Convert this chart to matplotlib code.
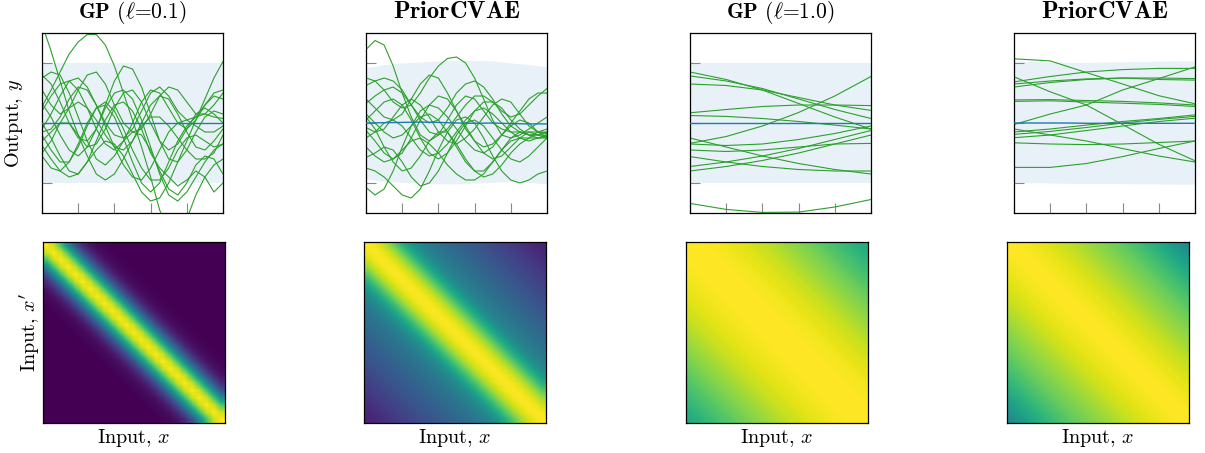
import numpy as np
import matplotlib
matplotlib.use("Agg")
import matplotlib.pyplot as plt

plt.rcParams['font.family'] = 'serif'
plt.rcParams['font.serif'] = ['cmr10', 'DejaVu Serif']
plt.rcParams['mathtext.fontset'] = 'cm'
plt.rcParams['axes.formatter.use_mathtext'] = True
plt.rcParams['axes.unicode_minus'] = False

# ---------------- data ----------------
titles = [r"$\mathbf{GP}$ ($\ell$=0.1)", r"$\mathbf{PriorCVAE}$",
          r"$\mathbf{GP}$ ($\ell$=1.0)", r"$\mathbf{PriorCVAE}$"]
title_sizes = [15.5, 17.5, 15.5, 17.5]

x_fine = [i / 20 for i in range(21)]          # sample positions, short lengthscale panels
x_coarse = [0.0, 0.2, 0.4, 0.6, 0.8, 1.0]      # sample positions, long lengthscale panels
x_band = [i / 10 for i in range(11)]

gp01_samples = [
    [3.3, 2.4, 1.4, 0.4, -0.4, -0.8, -0.7, -0.2, 0.5, 1.0, 1.1, 0.7, 0.0, -0.6, -0.9, -0.7, -0.2, 0.3, 0.5, 0.3, 0.0],
    [0.55, 1.1, 1.7, 2.3, 2.7, 2.95, 2.95, 2.6, 1.9, 1.0, 0.1, -0.8, -1.8, -2.9, -3.6, -3.8, -3.2, -2.4, -1.8, -1.4, -1.2],
    [1.6, 1.3, 0.7, 0.0, -0.5, -0.6, -0.2, 0.6, 1.4, 1.9, 1.8, 1.2, 0.3, -0.6, -1.2, -1.3, -0.9, -0.3, 0.2, 0.4, 0.3],
    [1.5, 1.7, 1.6, 1.0, 0.2, -0.6, -1.2, -1.4, -1.1, -0.6, -0.3, -0.4, -0.9, -1.6, -2.2, -2.4, -2.0, -1.4, -1.1, -1.2, -1.7],
    [1.1, 0.6, 0.3, 0.5, 1.1, 1.6, 1.7, 1.3, 0.6, 0.0, -0.3, -0.2, 0.3, 0.9, 1.2, 1.1, 0.7, 0.3, 0.3, 0.6, 1.0],
    [0.65, 0.2, -0.4, -0.9, -1.1, -0.8, -0.2, 0.5, 1.0, 1.1, 0.8, 0.1, -0.8, -1.7, -2.4, -2.6, -2.3, -1.8, -1.3, -0.9, -0.7],
    [0.4, 0.9, 1.3, 1.4, 1.1, 0.5, -0.2, -0.7, -0.9, -0.6, 0.0, 0.7, 1.1, 1.0, 0.5, 0.0, -0.2, 0.1, 0.6, 0.9, 0.8],
    [0.0, -0.5, -1.1, -1.6, -1.7, -1.3, -0.6, 0.1, 0.6, 0.7, 0.4, -0.2, -1.0, -1.5, -1.8, -2.1, -1.9, -1.6, -1.8, -2.3, -2.0],
    [-0.2, 0.3, 0.9, 1.4, 1.5, 1.2, 0.6, 0.0, -0.4, -0.5, -0.2, 0.4, 1.0, 1.2, 0.9, 0.4, 0.1, 0.2, 0.6, 1.0, 1.1],
    [-0.3, -0.2, 0.2, 0.8, 1.2, 1.1, 0.6, -0.1, -0.8, -1.4, -1.8, -1.9, -1.5, -0.9, -0.3, 0.0, 0.1, -0.1, -0.3, -0.3, -0.1],
    [-0.4, -0.9, -1.3, -1.3, -0.8, -0.1, 0.5, 0.7, 0.4, -0.2, -0.9, -1.5, -1.9, -1.9, -1.5, -0.9, -0.5, -0.4, -0.6, -0.8, -0.7],
    [-0.6, -0.3, 0.0, 0.0, -0.4, -1.1, -1.7, -1.9, -1.7, -1.2, -0.6, -0.1, 0.2, 0.2, -0.1, -0.5, -0.9, -1.2, -1.2, -1.0, -0.4],
    [-0.75, -1.2, -1.6, -1.8, -1.7, -1.3, -0.9, -0.6, -0.7, -1.1, -1.7, -2.3, -2.6, -2.5, -2.0, -1.3, -0.6, 0.1, 0.8, 1.5, 2.05],
    [-1.0, -0.6, 0.0, 0.5, 0.7, 0.5, 0.1, -0.4, -0.8, -0.9, -0.6, 0.0, 0.6, 0.9, 0.8, 0.3, -0.3, -0.8, -0.9, -0.6, -0.2],
    [-1.1, -1.5, -1.6, -1.3, -0.7, 0.0, 0.5, 0.6, 0.2, -0.5, -1.3, -2.0, -2.3, -2.0, -1.3, -0.6, -0.1, 0.2, 0.3, 0.2, 0.15],
]

cvae01_samples = [
    [2.45, 2.75, 2.6, 1.9, 1.0, 0.2, -0.4, -0.6, -0.4, 0.1, 0.6, 0.9, 0.8, 0.4, 0.0, -0.2, -0.3, -0.3, -0.4, -0.4, -0.4],
    [1.5, 1.4, 1.1, 0.7, 0.5, 0.6, 1.0, 1.5, 1.9, 2.15, 2.2, 2.0, 1.5, 0.8, 0.1, -0.4, -0.5, -0.4, -0.2, 0.0, 0.2],
    [1.25, 1.4, 1.5, 1.4, 1.1, 0.6, 0.1, -0.3, -0.4, -0.2, 0.2, 0.6, 0.9, 0.9, 0.7, 0.4, 0.2, 0.3, 0.6, 0.9, 1.15],
    [0.8, 0.5, 0.2, 0.1, 0.3, 0.8, 1.3, 1.6, 1.5, 1.0, 0.4, -0.2, -0.6, -0.8, -0.7, -0.4, 0.0, 0.4, 0.8, 1.0, 1.0],
    [0.65, 0.9, 1.1, 1.2, 1.0, 0.6, 0.2, 0.0, 0.1, 0.5, 1.0, 1.3, 1.4, 1.2, 0.8, 0.3, -0.1, -0.3, -0.4, -0.4, -0.3],
    [0.3, 0.0, -0.3, -0.5, -0.4, -0.1, 0.2, 0.3, 0.1, -0.3, -0.8, -1.3, -1.6, -1.6, -1.3, -0.9, -0.5, -0.3, -0.3, -0.4, -0.5],
    [0.1, 0.4, 0.7, 0.8, 0.6, 0.1, -0.5, -1.0, -1.2, -1.0, -0.6, -0.1, 0.4, 0.7, 0.7, 0.5, 0.1, -0.2, -0.4, -0.5, -0.5],
    [-0.15, -0.3, -0.2, 0.2, 0.6, 0.8, 0.6, 0.2, -0.3, -0.6, -0.7, -0.5, -0.2, 0.2, 0.6, 0.8, 0.7, 0.3, -0.1, -0.3, -0.3],
    [-0.25, -0.6, -1.0, -1.2, -1.0, -0.5, 0.1, 0.6, 0.9, 0.8, 0.4, -0.1, -0.6, -1.0, -1.2, -1.1, -0.8, -0.5, -0.3, -0.3, -0.35],
    [-0.5, -0.3, 0.0, 0.1, -0.1, -0.5, -0.9, -1.1, -1.0, -0.7, -0.3, 0.1, 0.4, 0.5, 0.3, 0.0, -0.3, -0.5, -0.6, -0.5, -0.4],
    [-0.8, -1.1, -1.3, -1.2, -0.9, -0.6, -0.5, -0.7, -1.0, -1.4, -1.7, -1.9, -1.9, -1.7, -1.3, -0.9, -0.6, -0.5, -0.5, -0.5, -0.45],
    [-1.15, -1.0, -0.8, -0.9, -1.3, -1.8, -2.1, -2.0, -1.6, -1.0, -0.4, 0.0, 0.1, -0.1, -0.5, -0.9, -1.2, -1.3, -1.1, -0.8, -0.5],
    [-2.15, -2.4, -2.2, -1.6, -0.8, -0.1, 0.4, 0.6, 0.5, 0.2, -0.2, -0.6, -0.9, -1.0, -0.8, -0.4, -0.1, 0.1, 0.0, -0.3, -0.5],
    [-1.5, -1.6, -1.8, -2.1, -2.4, -2.5, -2.2, -1.6, -0.9, -0.3, 0.1, 0.2, 0.0, -0.5, -1.1, -1.6, -1.9, -2.0, -1.9, -1.7, -1.6],
    [0.2, -0.2, -0.8, -1.3, -1.6, -1.5, -1.1, -0.6, -0.3, -0.3, -0.7, -1.2, -1.6, -1.8, -1.7, -1.4, -1.0, -0.7, -0.5, -0.3, -0.2],
]

gp10_samples = [
    [1.7, 1.45, 1.1, 0.65, 0.2, -0.2],
    [1.57, 1.4, 1.15, 0.8, 0.45, 0.15],
    [1.3, 1.25, 1.1, 0.85, 0.6, 0.42],
    [0.34, 0.45, 0.55, 0.6, 0.6, 0.58],
    [0.25, 0.22, 0.15, 0.05, -0.07, -0.2],
    [-0.68, -0.45, -0.1, 0.35, 0.9, 1.55],
    [-0.5, -0.8, -1.1, -1.35, -1.55, -1.7],
    [-0.7, -0.75, -0.7, -0.55, -0.35, -0.1],
    [-0.9, -0.95, -0.9, -0.8, -0.7, -0.68],
    [-1.12, -1.3, -1.45, -1.55, -1.6, -1.6],
    [-1.45, -1.3, -1.1, -0.85, -0.55, -0.25],
    [-1.6, -1.45, -1.25, -1.0, -0.7, -0.4],
    [-2.68, -2.88, -2.98, -2.97, -2.8, -2.55],
]

cvae10_samples = [
    [2.14, 2.07, 1.68, 1.3, 0.91, 0.64],
    [1.54, 1.04, 0.6, -0.05, -0.71, -1.26],
    [-0.05, 0.3, 0.6, 1.1, 1.48, 1.87],
    [1.37, 1.55, 1.7, 1.78, 1.82, 1.82],
    [1.2, 1.35, 1.45, 1.5, 1.5, 1.48],
    [1.3, 1.4, 1.47, 1.5, 1.45, 1.43],
    [0.77, 0.78, 0.75, 0.72, 0.67, 0.6],
    [0.72, 0.74, 0.7, 0.66, 0.62, 0.55],
    [-0.38, -0.28, -0.15, 0.0, 0.12, 0.22],
    [-0.49, -0.4, -0.25, -0.1, 0.05, 0.16],
    [-0.66, -0.7, -0.72, -0.7, -0.65, -0.6],
    [-0.2, -0.4, -0.6, -0.85, -1.1, -1.3],
    [-1.48, -1.48, -1.35, -1.12, -0.85, -0.6],
    [-0.3, -0.2, -0.07, 0.05, 0.15, 0.27],
]

# mean and +/- 2 sd band for each top panel
gp01_mean = [0.0] * 11
gp01_hi = [2.0] * 11
gp01_lo = [-2.0] * 11
cvae01_mean = [0.0, 0.01, 0.02, 0.03, 0.02, 0.0, -0.01, 0.0, -0.02, -0.03, -0.03]
cvae01_hi = [1.84, 1.95, 2.0, 2.03, 2.07, 2.09, 2.09, 2.07, 2.0, 1.95, 1.87]
cvae01_lo = [-1.87, -1.95, -1.98, -2.0, -2.03, -2.03, -2.0, -1.98, -1.95, -1.98, -2.03]
gp10_mean = [0.0] * 11
gp10_hi = [2.0] * 11
gp10_lo = [-2.0] * 11
cvae10_mean = [0.0, 0.0, 0.0, 0.0, -0.01, -0.01, -0.01, -0.01, -0.01, -0.01, -0.01]
cvae10_hi = [2.06, 2.05, 2.03, 2.02, 2.02, 2.03, 2.04, 2.05, 2.06, 2.07, 2.07]
cvae10_lo = [-1.98, -1.99, -2.0, -2.01, -2.02, -2.02, -2.02, -2.03, -2.03, -2.04, -2.04]

# covariance as function of grid offset |i - j| (25 x 25 grid)
gp01_cov_profile = [1.0, 0.92, 0.71, 0.46, 0.25, 0.12, 0.05, 0.02, 0.01, 0.0, 0.0, 0.0, 0.0,
                    0.0, 0.0, 0.0, 0.0, 0.0, 0.0, 0.0, 0.0, 0.0, 0.0, 0.0, 0.0]
cvae01_cov_profile = [1.0, 0.98, 0.93, 0.85, 0.74, 0.63, 0.54, 0.47, 0.43, 0.40, 0.37, 0.35, 0.33,
                      0.31, 0.29, 0.27, 0.25, 0.23, 0.21, 0.19, 0.17, 0.15, 0.13, 0.11, 0.10]
gp10_cov_profile = [1.0, 1.0, 1.0, 0.99, 0.99, 0.98, 0.97, 0.96, 0.95, 0.93, 0.92, 0.90, 0.88,
                    0.86, 0.84, 0.82, 0.80, 0.78, 0.75, 0.73, 0.71, 0.68, 0.66, 0.63, 0.61]
cvae10_cov_profile = [1.0, 1.0, 0.99, 0.98, 0.97, 0.96, 0.94, 0.93, 0.91, 0.89, 0.87, 0.85, 0.83,
                      0.81, 0.79, 0.77, 0.74, 0.72, 0.69, 0.66, 0.63, 0.60, 0.56, 0.52, 0.48]

panels = [
    (x_fine, gp01_samples, gp01_mean, gp01_hi, gp01_lo, gp01_cov_profile),
    (x_fine, cvae01_samples, cvae01_mean, cvae01_hi, cvae01_lo, cvae01_cov_profile),
    (x_coarse, gp10_samples, gp10_mean, gp10_hi, gp10_lo, gp10_cov_profile),
    (x_coarse, cvae10_samples, cvae10_mean, cvae10_hi, cvae10_lo, cvae10_cov_profile),
]

# ---------------- layout ----------------
W, H = 1205, 453
fig = plt.figure(figsize=(W / 100, H / 100), dpi=100)

top_left_px = [42, 366, 690, 1014]
bot_left_px = [43, 364, 686, 1007]

LABEL_FS = 14.5

band_color = '#1f77b4'
for k, (xs, samples, mean, hi, lo, prof) in enumerate(panels):
    ax = fig.add_axes([top_left_px[k] / W, (H - 213) / H, 181 / W, 180 / H])
    ax.fill_between(x_band, lo, hi, color=band_color, alpha=0.1, linewidth=0, zorder=1)
    for s in samples:
        ax.plot(xs, s, color='#2ca02c', lw=0.8, zorder=2)
    ax.plot(x_band, mean, color='#1f77b4', lw=1.0, zorder=3)
    ax.set_xlim(0, 1)
    ax.set_ylim(-3, 3)
    ax.set_xticks([0, 0.2, 0.4, 0.6, 0.8, 1.0])
    ax.set_yticks([-2, 0, 2])
    ax.tick_params(direction='in', length=7, width=0.8, color='#888888',
                   labelbottom=False, labelleft=False)
    for sp in ax.spines.values():
        sp.set_linewidth(0.9)
    ax.set_title(titles[k], fontsize=title_sizes[k], pad=11)
    if k == 0:
        ax.set_ylabel(r"Output, $y$", fontsize=LABEL_FS, labelpad=12)

    # covariance heatmap
    n = len(prof)
    idx = np.abs(np.subtract.outer(np.arange(n), np.arange(n)))
    cov = np.asarray(prof)[idx]
    axh = fig.add_axes([bot_left_px[k] / W, (H - 423) / H, 182 / W, 181 / H])
    axh.imshow(cov, cmap='viridis', vmin=0, vmax=1, interpolation='bilinear',
               aspect='auto')
    axh.set_xticks([])
    axh.set_yticks([])
    for sp in axh.spines.values():
        sp.set_linewidth(0.9)
    axh.set_xlabel(r"Input, $x$", fontsize=LABEL_FS, labelpad=3)
    if k == 0:
        axh.set_ylabel(r"Input, $x'$", fontsize=LABEL_FS, labelpad=0.5)

fig.savefig("out.png", dpi=100)
